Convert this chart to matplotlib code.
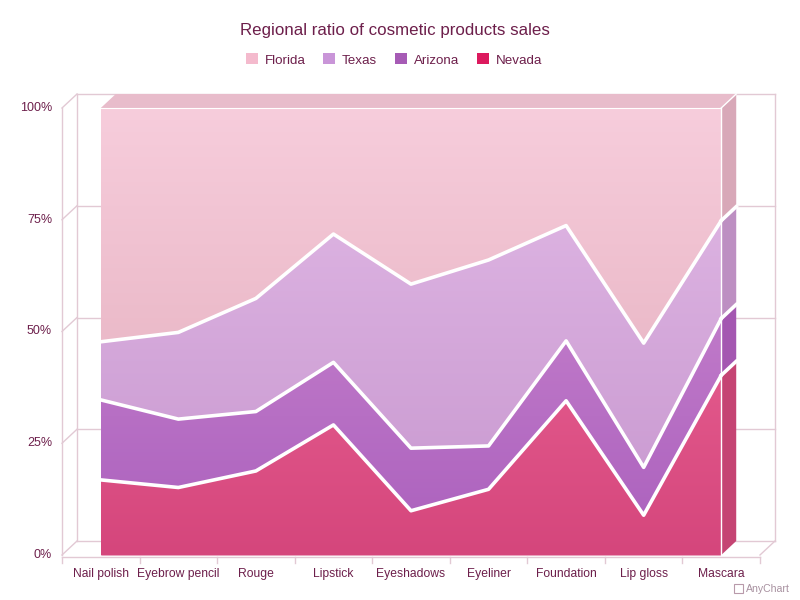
import numpy as np
import matplotlib.pyplot as plt
from matplotlib.patches import Polygon, Patch, Rectangle
from matplotlib.colors import LinearSegmentedColormap

categories = ['Nail polish', 'Eyebrow pencil', 'Rouge', 'Lipstick', 'Eyeshadows',
              'Eyeliner', 'Foundation', 'Lip gloss', 'Mascara']
nevada = [16.8, 15.1, 18.8, 29.1, 9.9, 14.7, 34.5, 8.9, 40.2]
arizona = [17.9, 15.3, 13.3, 14.0, 14.0, 9.7, 13.4, 10.7, 12.7]
texas = [13.0, 19.4, 25.3, 28.7, 36.7, 41.6, 25.8, 27.8, 21.9]
florida = [52.3, 50.2, 42.6, 28.2, 39.4, 34.0, 26.3, 52.6, 25.2]
series_names = ['Nevada', 'Arizona', 'Texas', 'Florida']
yticks = [0, 25, 50, 75, 100]

# gradient top/bottom, side face colour, legend colour
grad_cols = [('#e2588b', '#d5467c'), ('#c07ac9', '#ae64bf'),
             ('#dcb2e1', '#cc9dd3'), ('#f7cddc', '#ebbac9')]
side_cols = ['#c54473', '#a457b1', '#bd8fc2', '#d8a8b8']
legend_cols = ['#dc1a5e', '#a65bb5', '#c995d8', '#f4bacd']
txt = '#6d1f4b'
grid = '#e2c9d4'
depth = (15, 14)  # pixels

plt.rcParams['font.family'] = ['Liberation Sans', 'DejaVu Sans']
fig = plt.figure(figsize=(8, 6), dpi=100)
ax = fig.add_axes([62/800, 45/600, 698/800, 447/600])
ax.set_xlim(-0.5, 8.5)
ax.set_ylim(0, 100)
ax.axis('off')


def shift(xs, ys, dx, dy):
    pts = ax.transData.transform(np.column_stack([xs, ys]).astype(float))
    pts += [dx, dy]
    return ax.transData.inverted().transform(pts)


def back(xs, ys):
    return shift(xs, ys, *depth)


def seg(p, **kw):
    p = np.asarray(p)
    ax.plot(p[:, 0], p[:, 1], clip_on=False, **kw)


xl = (-0.5, len(categories) - 0.5)

# back wall
for v in yticks:
    seg(back(xl, [v, v]), color=grid, lw=1, zorder=1)
    seg(np.vstack([[xl[0], v], back([xl[0]], [v])]), color=grid, lw=1, zorder=1)
for xv in xl:
    seg(back([xv, xv], [0, 100]), color=grid, lw=1, zorder=1)
seg(np.vstack([[xl[1], 0], back([xl[1]], [0])]), color=grid, lw=1, zorder=1)

# front axes
seg([[xl[0], 0], [xl[0], 100]], color=grid, lw=1, zorder=1)
seg(shift(xl, [0, 0], 0, -2), color=grid, lw=1, zorder=1)
for b in np.arange(len(categories) + 1) - 0.5:
    seg(np.vstack([shift([b], [0], 0, -2), shift([b], [0], 0, -8)]),
        color=grid, lw=1, zorder=1)

for v in yticks:
    ax.annotate(f'{v}%', xy=(xl[0], v), xytext=(-10, 0), textcoords='offset pixels',
                ha='right', va='center', fontsize=9, color=txt, annotation_clip=False)
for i, c in enumerate(categories):
    ax.annotate(c, xy=(i, 0), xytext=(0, -19), textcoords='offset pixels',
                ha='center', va='center', fontsize=8.7, color=txt, annotation_clip=False)

# stacked percent areas
data = np.array([nevada, arizona, texas, florida], dtype=float)
data = data / data.sum(axis=0) * 100
cum = np.cumsum(data, axis=0)
low = np.vstack([np.zeros(data.shape[1]), cum[:-1]])
x = np.arange(len(categories))
last = len(categories) - 1

for i in range(len(series_names)):
    poly = ax.fill_between(x, low[i], cum[i], color=grad_cols[i][1], lw=0, zorder=2)
    cmap = LinearSegmentedColormap.from_list('g', list(grad_cols[i]))
    img = ax.imshow(np.linspace(0, 1, 256).reshape(-1, 1), cmap=cmap, aspect='auto',
                    extent=[0, last, low[i].min(), cum[i].max()], zorder=2.1)
    img.set_clip_path(poly.get_paths()[0], transform=ax.transData)
    # right side face
    lo, hi = low[i][last], cum[i][last]
    bk = back([last, last], [lo, hi])
    ax.add_patch(Polygon([[last, lo], [last, hi], bk[1], bk[0]], closed=True,
                         fc=side_cols[i], ec='none', zorder=3, clip_on=False))

ax.set_xlim(-0.5, 8.5)
ax.set_ylim(0, 100)

# top face
tb = back([0, last], [100, 100])
ax.add_patch(Polygon([[0, 100], [last, 100], tb[1], tb[0]], closed=True,
                     fc='#e8bccb', ec='none', zorder=3, clip_on=False))

# white boundaries
for i in range(len(series_names) - 1):
    ax.plot(x, cum[i], color='white', lw=2.6, zorder=4, clip_on=False)
    seg(np.vstack([[last, cum[i][last]], back([last], [cum[i][last]])]),
        color='white', lw=2.6, zorder=4)
seg([[last, 0], [last, 100]], color='white', lw=1, zorder=4)
seg(np.vstack([[last, 100], tb[1]]), color='white', lw=1, zorder=4)
seg([[0, 100], [last, 100]], color='white', lw=0.8, zorder=4)

fig.text(395/800, 1 - 30/600, 'Regional ratio of cosmetic products sales',
         ha='center', va='center', fontsize=12.2, color=txt)

handles = [Patch(fc=legend_cols[i], ec='none') for i in range(3, -1, -1)]
labels = series_names[::-1]
fig.legend(handles, labels, loc='center', bbox_to_anchor=(394/800, 1 - 60/600), ncol=4,
           frameon=False, fontsize=9.6, handlelength=0.9, handleheight=0.9,
           handletextpad=0.5, columnspacing=1.35, labelcolor=txt)

# watermark
fig.patches.append(Rectangle((734/800, 1 - 593/600), 9/800, 9/600, fill=False,
                             ec='#b89aaa', lw=0.8, transform=fig.transFigure))
fig.text(1 - 10/800, 1 - 589/600, 'AnyChart', ha='right', va='center',
         fontsize=7.6, color='#a891a0')

fig.savefig('out.png', dpi=100)
